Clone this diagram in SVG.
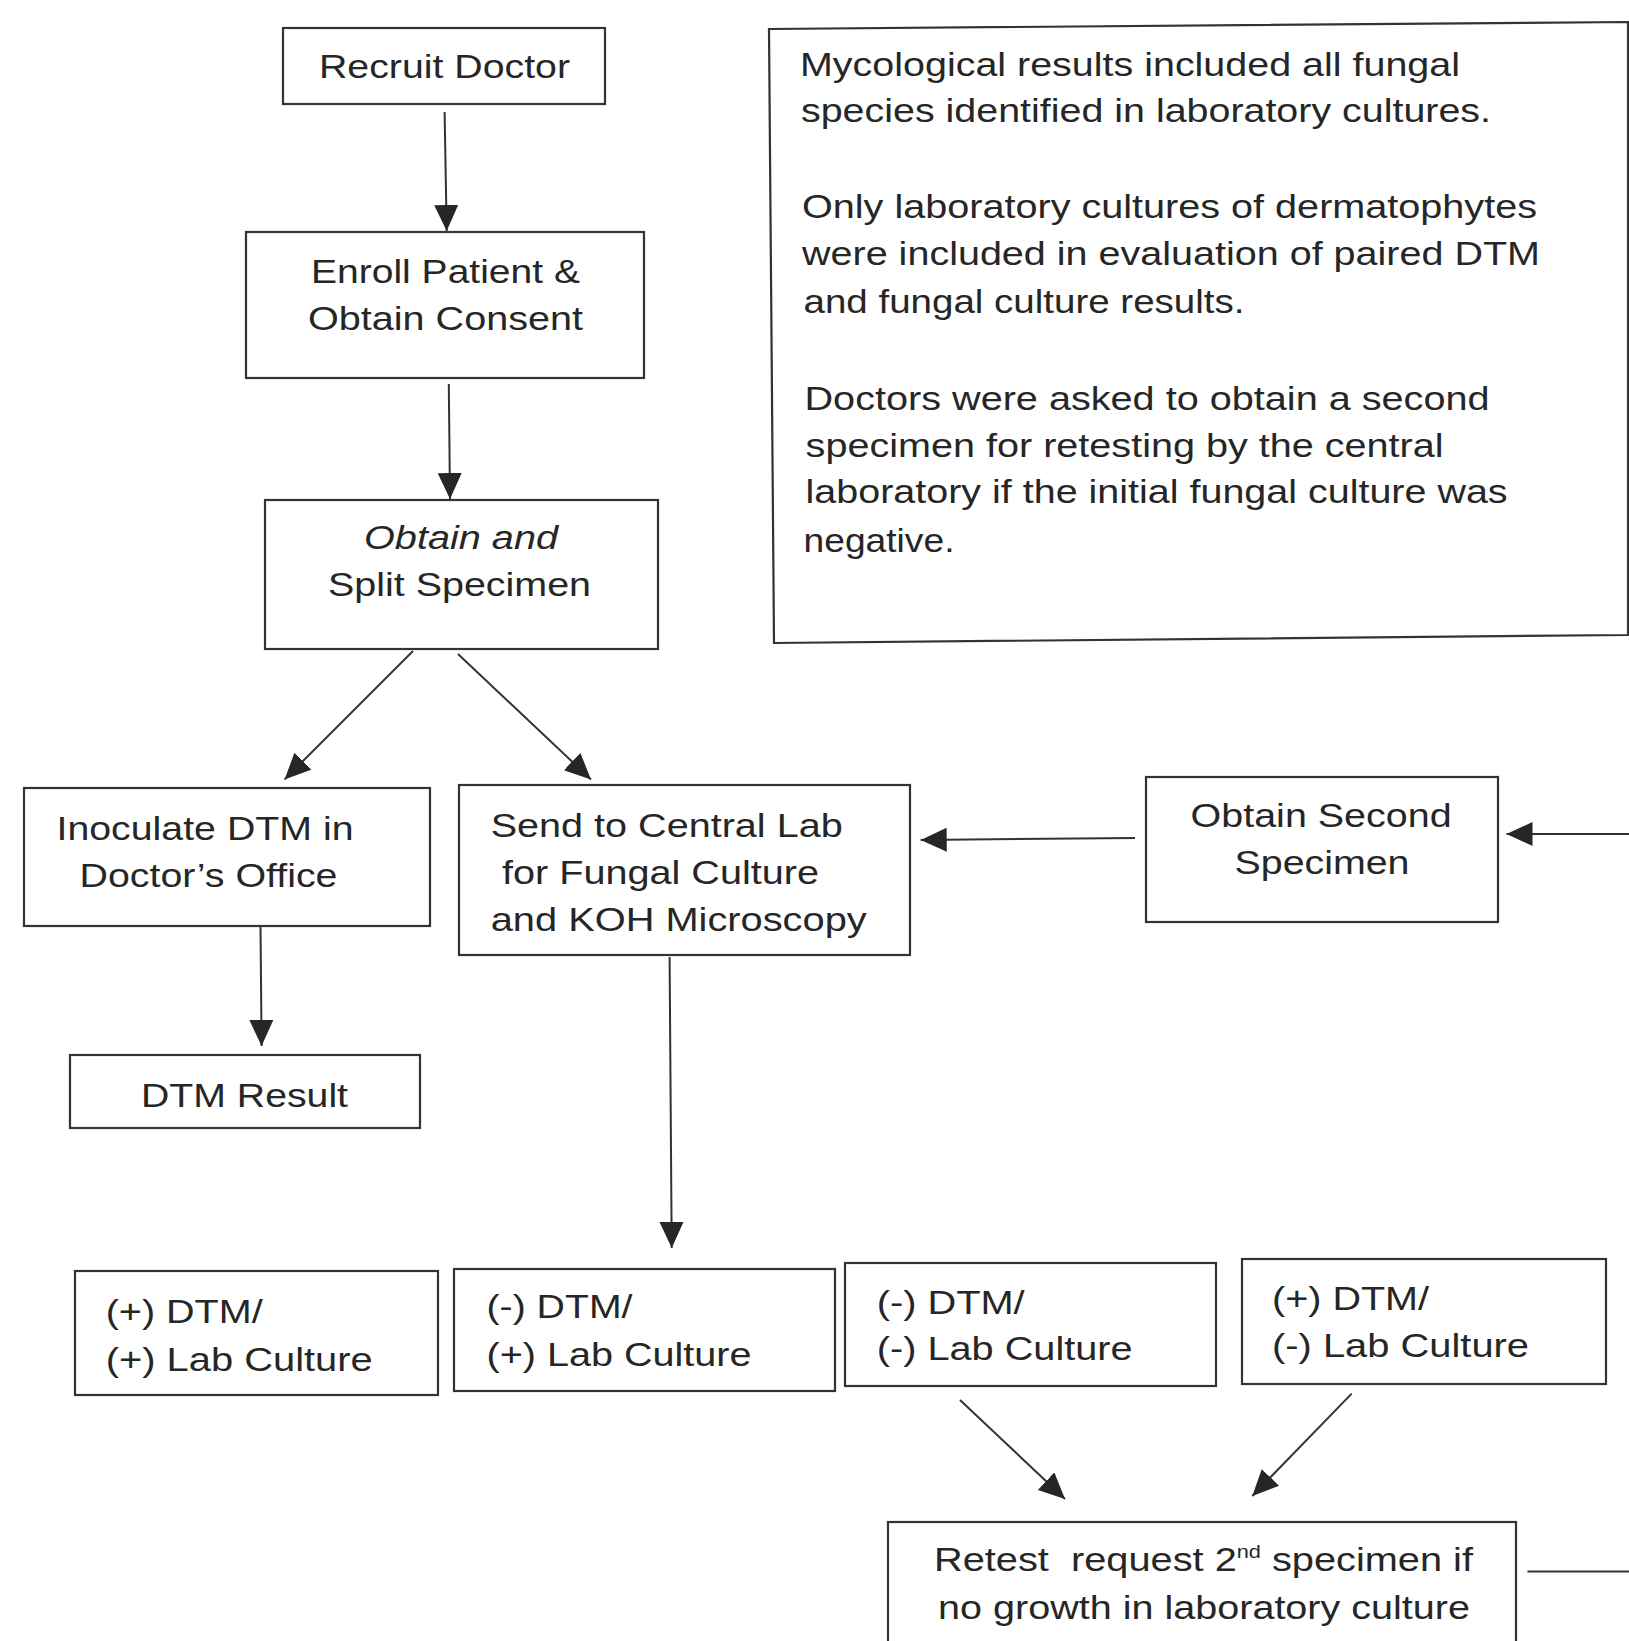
<svg xmlns="http://www.w3.org/2000/svg" width="1629" height="1641" viewBox="0 0 1629 1641">
<style>
  .box { fill: #ffffff; stroke: #333333; stroke-width: 2.2; }
  .t { font-family: "Liberation Sans", Arial, sans-serif; font-size: 33px; fill: #262626; }
  .it { font-style: italic; }
  .c { fill: none; stroke: #333333; stroke-width: 2; }
</style>
<defs>
  <marker id="ah" markerUnits="userSpaceOnUse" markerWidth="28" markerHeight="26" refX="26" refY="12" orient="auto">
    <path d="M0,0 L26,12 L0,24 Z" fill="#262626"/>
  </marker>
</defs>
<rect width="1629" height="1641" fill="#ffffff"/>

<g id="connectors">
  <line class="c" x1="444.6" y1="112" x2="446.7" y2="231" marker-end="url(#ah)"/>
  <line class="c" x1="448.8" y1="384" x2="450" y2="499" marker-end="url(#ah)"/>
  <line class="c" x1="413" y1="651" x2="284.6" y2="779.4" marker-end="url(#ah)"/>
  <line class="c" x1="458" y1="654" x2="591" y2="779.4" marker-end="url(#ah)"/>
  <line class="c" x1="260.5" y1="926" x2="261.6" y2="1046" marker-end="url(#ah)"/>
  <line class="c" x1="669.6" y1="957" x2="671.7" y2="1248" marker-end="url(#ah)"/>
  <line class="c" x1="1135" y1="838" x2="920.7" y2="840" marker-end="url(#ah)"/>
  <line class="c" x1="1629" y1="834" x2="1506.5" y2="834" marker-end="url(#ah)"/>
  <line class="c" x1="960" y1="1400" x2="1065" y2="1499" marker-end="url(#ah)"/>
  <line class="c" x1="1351.7" y1="1393.6" x2="1252.3" y2="1496" marker-end="url(#ah)"/>
  <line class="c" x1="1527.5" y1="1571.4" x2="1629" y2="1571.4"/>
</g>

<g id="note">
  <polygon class="box" points="769,29 1628,22 1628,635 774,643"/>
  <text class="t" x="800" y="76" textLength="660" lengthAdjust="spacingAndGlyphs">Mycological results included all fungal</text>
  <text class="t" x="801" y="122" textLength="690" lengthAdjust="spacingAndGlyphs">species identified in laboratory cultures.</text>
  <text class="t" x="802" y="218" textLength="735" lengthAdjust="spacingAndGlyphs">Only laboratory cultures of dermatophytes</text>
  <text class="t" x="802" y="265" textLength="738" lengthAdjust="spacingAndGlyphs">were included in evaluation of paired DTM</text>
  <text class="t" x="803.5" y="313" textLength="441" lengthAdjust="spacingAndGlyphs">and fungal culture results.</text>
  <text class="t" x="804.5" y="410" textLength="685" lengthAdjust="spacingAndGlyphs">Doctors were asked to obtain a second</text>
  <text class="t" x="805.6" y="457" textLength="638" lengthAdjust="spacingAndGlyphs">specimen for retesting by the central</text>
  <text class="t" x="805.6" y="503" textLength="702" lengthAdjust="spacingAndGlyphs">laboratory if the initial fungal culture was</text>
  <text class="t" x="803.5" y="552" textLength="151" lengthAdjust="spacingAndGlyphs">negative.</text>
</g>

<g id="recruit">
  <rect class="box" x="283" y="28" width="322" height="76"/>
  <text class="t" x="319" y="78" textLength="251" lengthAdjust="spacingAndGlyphs">Recruit Doctor</text>
</g>

<g id="enroll">
  <rect class="box" x="246" y="232" width="398" height="146"/>
  <text class="t" x="311" y="283" textLength="269" lengthAdjust="spacingAndGlyphs">Enroll Patient &amp;</text>
  <text class="t" x="308" y="330" textLength="275" lengthAdjust="spacingAndGlyphs">Obtain Consent</text>
</g>

<g id="split">
  <rect class="box" x="265" y="500" width="393" height="149"/>
  <text class="t it" x="364" y="549" textLength="194" lengthAdjust="spacingAndGlyphs">Obtain and</text>
  <text class="t" x="328" y="596" textLength="263" lengthAdjust="spacingAndGlyphs">Split Specimen</text>
</g>

<g id="inoculate">
  <rect class="box" x="24" y="788" width="406" height="138"/>
  <text class="t" x="56.5" y="840" textLength="297" lengthAdjust="spacingAndGlyphs">Inoculate DTM in</text>
  <text class="t" x="79.5" y="887" textLength="258" lengthAdjust="spacingAndGlyphs">Doctor’s Office</text>
</g>

<g id="send">
  <rect class="box" x="459" y="785" width="451" height="170"/>
  <text class="t" x="490.7" y="837" textLength="352" lengthAdjust="spacingAndGlyphs">Send to Central Lab</text>
  <text class="t" x="502" y="884" textLength="317" lengthAdjust="spacingAndGlyphs">for Fungal Culture</text>
  <text class="t" x="490.7" y="931" textLength="376" lengthAdjust="spacingAndGlyphs">and KOH Microscopy</text>
</g>

<g id="second">
  <rect class="box" x="1146" y="777" width="352" height="145"/>
  <text class="t" x="1190.6" y="826.5" textLength="261" lengthAdjust="spacingAndGlyphs">Obtain Second</text>
  <text class="t" x="1234.5" y="873.6" textLength="175" lengthAdjust="spacingAndGlyphs">Specimen</text>
</g>

<g id="dtmresult">
  <rect class="box" x="70" y="1055" width="350" height="73"/>
  <text class="t" x="141" y="1107" textLength="207" lengthAdjust="spacingAndGlyphs">DTM Result</text>
</g>

<g id="pp">
  <rect class="box" x="75" y="1271" width="363" height="124"/>
  <text class="t" x="105.7" y="1323.4" textLength="157" lengthAdjust="spacingAndGlyphs">(+) DTM/</text>
  <text class="t" x="105.7" y="1370.5" textLength="267" lengthAdjust="spacingAndGlyphs">(+) Lab Culture</text>
</g>

<g id="np">
  <rect class="box" x="454" y="1269" width="381" height="122"/>
  <text class="t" x="486.5" y="1318" textLength="146" lengthAdjust="spacingAndGlyphs">(-) DTM/</text>
  <text class="t" x="486.5" y="1366" textLength="265" lengthAdjust="spacingAndGlyphs">(+) Lab Culture</text>
</g>

<g id="nn">
  <rect class="box" x="845" y="1263" width="371" height="123"/>
  <text class="t" x="876.7" y="1314" textLength="148" lengthAdjust="spacingAndGlyphs">(-) DTM/</text>
  <text class="t" x="876.7" y="1360" textLength="256" lengthAdjust="spacingAndGlyphs">(-) Lab Culture</text>
</g>

<g id="pn">
  <rect class="box" x="1242" y="1259" width="364" height="125"/>
  <text class="t" x="1272" y="1310" textLength="157" lengthAdjust="spacingAndGlyphs">(+) DTM/</text>
  <text class="t" x="1272" y="1357" textLength="257" lengthAdjust="spacingAndGlyphs">(-) Lab Culture</text>
</g>

<g id="retest">
  <rect class="box" x="888" y="1522" width="628" height="135"/>
  <text class="t" x="934" y="1571.4" textLength="539" lengthAdjust="spacingAndGlyphs" xml:space="preserve">Retest  request 2<tspan font-size="18" dy="-13">nd</tspan><tspan dy="13"> specimen if</tspan></text>
  <text class="t" x="938" y="1618.5" textLength="532" lengthAdjust="spacingAndGlyphs">no growth in laboratory culture</text>
</g>
</svg>
